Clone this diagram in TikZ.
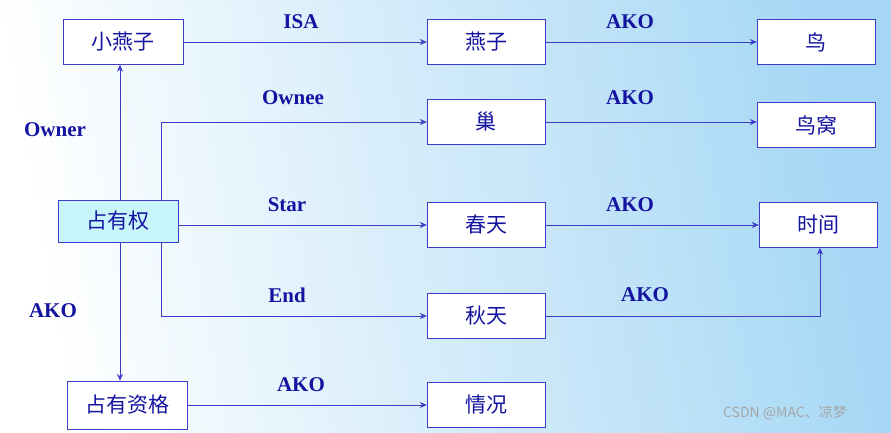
\documentclass[tikz,border=0pt]{standalone}
\usepackage{fontspec}
\setmainfont{Liberation Serif}
\newfontfamily\cjk{Noto Sans CJK SC}
\usetikzlibrary{arrows.meta}
\definecolor{navy}{RGB}{20,20,160}
\definecolor{edgeblue}{RGB}{60,60,200}
\definecolor{bgblue}{RGB}{165,215,245}
\definecolor{boxcyan}{RGB}{200,245,250}
\tikzset{
  ConceptStyle/.style={draw=edgeblue, fill=white, minimum width=118pt, minimum height=45pt,
    inner sep=0pt, text=navy, font=\cjk\fontsize{21}{21}\selectfont},
  RelStyle/.style={text=navy, font=\bfseries\fontsize{21}{21}\selectfont},
  LinkStyle/.style={draw=edgeblue, thick, -{Stealth[length=7pt,width=6pt]}}
}
\begin{document}
\begin{tikzpicture}[x=1pt,y=-1pt]
  \shade[left color=white, right color=bgblue, shading angle=100]
    (0,0) rectangle (891,433);
  \useasboundingbox (0,0) rectangle (891,433);
  % concepts
  \node[ConceptStyle, minimum width=120pt] (swallow) at (123,42) {小燕子};
  \node[ConceptStyle] (yanzi) at (486,42) {燕子};
  \node[ConceptStyle] (bird) at (816,42) {鸟};
  \node[ConceptStyle] (nest) at (486,122) {巢};
  \node[ConceptStyle] (birdnest) at (816,125) {鸟窝};
  \node[ConceptStyle, fill=boxcyan, minimum width=120pt, minimum height=42pt] (own) at (118,221) {占有权};
  \node[ConceptStyle] (spring) at (486,225) {春天};
  \node[ConceptStyle] (time) at (818,225) {时间};
  \node[ConceptStyle] (autumn) at (486,316) {秋天};
  \node[ConceptStyle, minimum width=120pt, minimum height=48pt] (qual) at (127,405) {占有资格};
  \node[ConceptStyle] (situ) at (486,405) {情况};
  % links
  \draw[LinkStyle] (swallow) -- (yanzi);
  \draw[LinkStyle] (yanzi) -- (bird);
  \draw[LinkStyle] (nest) -- (nest -| birdnest.west);
  \draw[LinkStyle] (spring) -- (time);
  \draw[LinkStyle] (own.east |- spring) -- (spring);
  \draw[LinkStyle] (qual) -- (situ);
  \draw[LinkStyle] (own.north -| 120,0) -- (swallow.south -| 120,0);
  \draw[LinkStyle] (own.south -| 120,0) -- (qual.north -| 120,0);
  \draw[LinkStyle] (own.north -| 161,0) |- (nest);
  \draw[LinkStyle] (own.south -| 161,0) |- (autumn);
  \draw[LinkStyle] (autumn) -| (time.south -| 820,0);
  % relation labels
  \node[RelStyle] (isa) at (301,22) {ISA};
  \node[RelStyle] (ako1) at (630,22) {AKO};
  \node[RelStyle] (ownee) at (293,98) {Ownee};
  \node[RelStyle] (ako2) at (630,98) {AKO};
  \node[RelStyle] (owner) at (55,130) {Owner};
  \node[RelStyle] (star) at (287,205) {Star};
  \node[RelStyle] (ako3) at (630,205) {AKO};
  \node[RelStyle] (endl) at (287,295) {End};
  \node[RelStyle] (ako4) at (645,295) {AKO};
  \node[RelStyle] (ako5) at (53,311) {AKO};
  \node[RelStyle] (ako6) at (301,385) {AKO};
  \node[text=gray!70, font=\cjk\fontsize{14}{14}\selectfont] (mark) at (785,413) {CSDN @MAC、凉梦};
\end{tikzpicture}
\end{document}
